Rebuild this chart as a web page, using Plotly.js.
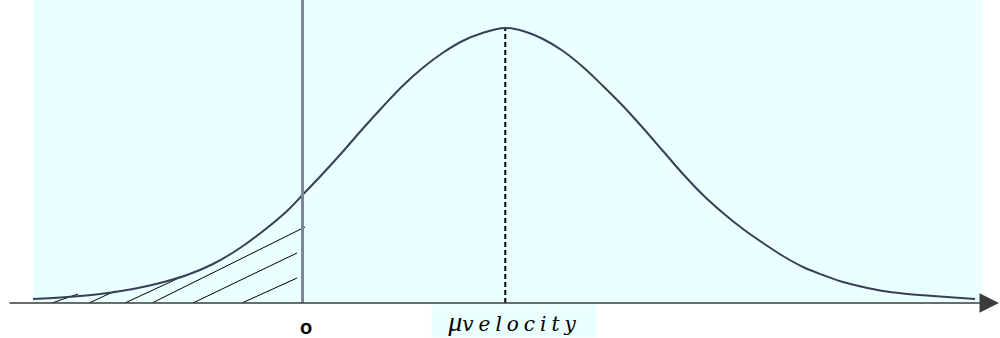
<!DOCTYPE html>
<html>
<head>
<meta charset="utf-8">
<script src="https://cdn.plot.ly/plotly-3.0.1.min.js"></script>
<style>html,body{margin:0;padding:0;background:#fff;}#chart{width:1000px;height:338px;}</style>
</head>
<body>
<div id="chart"></div>
<script>
// Curve (x: position, y: density height)
const curveX = [-2.695, -2.355, -2.025, -1.695, -1.425, -1.155, -0.895, -0.625, -0.355, -0.155, 0, 0.2, 0.4, 0.6, 0.8, 1.0, 1.2, 1.4, 1.6, 1.8, 2.025, 2.205, 2.405, 2.605, 2.805, 3.005, 3.205, 3.405, 3.605, 3.805, 4.005, 4.205, 4.405, 4.605, 4.805, 5.005, 5.205, 5.405, 5.605, 5.805, 6.005, 6.305, 6.725];
const curveY = [0.04, 0.06, 0.09, 0.14, 0.20, 0.28, 0.39, 0.55, 0.75, 0.92, 1.08, 1.29, 1.51, 1.74, 1.96, 2.17, 2.35, 2.50, 2.62, 2.70, 2.75, 2.72, 2.64, 2.52, 2.36, 2.17, 1.97, 1.75, 1.52, 1.29, 1.08, 0.90, 0.74, 0.60, 0.47, 0.36, 0.28, 0.21, 0.16, 0.12, 0.095, 0.07, 0.04];

// Hatch segments (start on the axis, end at curve / zero line)
const hatchStartX = [-2.505, -2.135, -1.775, -1.505, -1.095, -0.605];
const hatchEndX   = [-2.245, -1.875, -1.215, 0.025, -0.055, -0.055];
const hatchEndY   = [0.09, 0.12, 0.26, 0.76, 0.50, 0.25];

const zeroX = 0;
const muX = 2.028;
const peakY = 2.74;
const xRange = [-2.695, 6.795];
const yRange = [0, 3.03];

const tickLabels = {
  zero: 'o',
  mu: 'μ<span style="font-family:DejaVu Serif;font-style:italic;font-size:20px;letter-spacing:5px">velocity</span>'
};

const hx = [], hy = [];
for (let i = 0; i < hatchStartX.length; i++) {
  hx.push(hatchStartX[i], hatchEndX[i], null);
  hy.push(0, hatchEndY[i], null);
}

const traces = [
  {x: hx, y: hy, mode: 'lines', line: {color: '#000', width: 1}, hoverinfo: 'skip', showlegend: false},
  {x: curveX, y: curveY, mode: 'lines', line: {color: '#3a3f56', width: 2, shape: 'spline', smoothing: 1}, showlegend: false},
  {x: [zeroX, zeroX], y: yRange, mode: 'lines', line: {color: '#7b8797', width: 3}, showlegend: false},
  {x: [muX, muX], y: [0, peakY], mode: 'lines', line: {color: '#000', width: 2, dash: '5px,3px'}, showlegend: false}
];

const layout = {
  width: 1000, height: 338,
  margin: {l: 33, r: 18, t: 0, b: 35, pad: 0},
  paper_bgcolor: '#ffffff',
  plot_bgcolor: '#eaffff',
  showlegend: false,
  xaxis: {range: xRange, showgrid: false, zeroline: false, showline: false, showticklabels: false, ticks: '', fixedrange: true},
  yaxis: {range: yRange, showgrid: false, zeroline: false, showline: false, showticklabels: false, ticks: '', fixedrange: true},
  annotations: [
    {xref: 'paper', yref: 'y', x: 1.0185, y: 0, ax: -993, ay: 0, text: ' ', showarrow: true,
     arrowhead: 2, arrowsize: 2.6, arrowwidth: 1.5, arrowcolor: '#3c3c3c'},
    {xref: 'x', yref: 'paper', x: zeroX, y: 0, xshift: 3, yshift: -24, yanchor: 'middle', xanchor: 'center',
     text: '<b>' + tickLabels.zero + '</b>', showarrow: false,
     font: {family: 'Liberation Sans, Arial, sans-serif', size: 20, color: '#000'}},
    {xref: 'x', yref: 'paper', x: muX, y: 0, xshift: 9, yshift: -18, yanchor: 'middle', xanchor: 'center',
     text: tickLabels.mu, showarrow: false, bgcolor: '#eaffff', width: 162, height: 30,
     font: {family: 'Liberation Serif, Times New Roman, serif', size: 28, color: '#000', style: 'italic'}}
  ]
};

Plotly.newPlot('chart', traces, layout, {displayModeBar: false, staticPlot: true});
</script>
</body>
</html>
